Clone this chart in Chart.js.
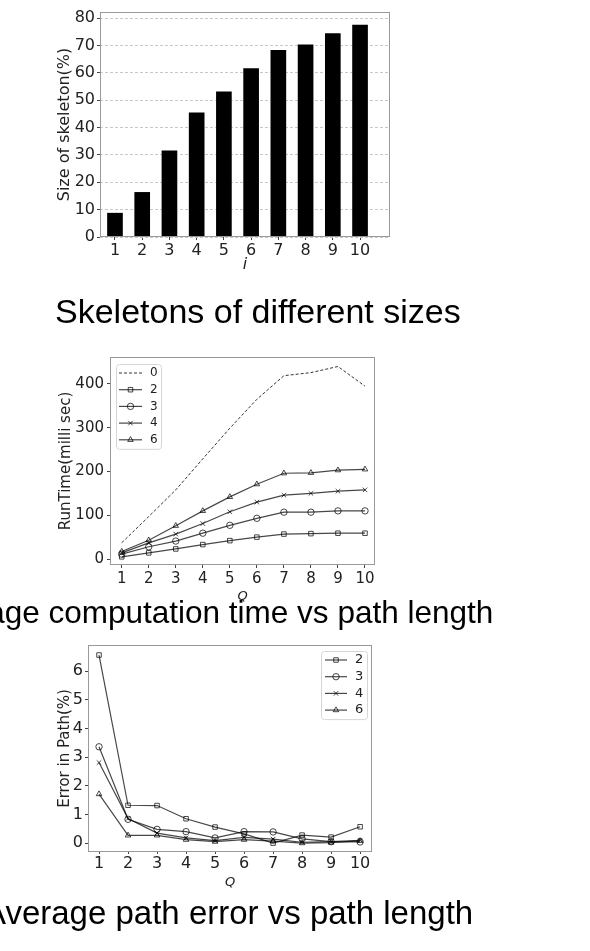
<!DOCTYPE html>
<html>
<head>
<meta charset="utf-8">
<script src="https://cdn.jsdelivr.net/npm/chart.js@4.4.1/dist/chart.umd.min.js"></script>
<style>
    html, body { margin: 0; padding: 0; background: #fff; }
    body { width: 590px; height: 951px; position: relative; overflow: hidden; }
    .chart-box { position: absolute; left: 0; }
    .caption {
        position: absolute;
        white-space: nowrap;
        font-family: "Liberation Sans", Arial, sans-serif;
        font-size: 33px;
        line-height: 33px;
        color: #000;
    }
</style>
</head>
<body>
<canvas id="chart-skeleton" class="chart-box" width="590" height="280" style="top:0"></canvas>
<canvas id="chart-runtime" class="chart-box" width="590" height="310" style="top:300px"></canvas>
<canvas id="chart-error" class="chart-box" width="590" height="290" style="top:610px"></canvas>
<div class="caption" style="left:55px;top:294px;font-size:34px;line-height:34px">Skeletons of different sizes</div>
<div class="caption" style="left:-77px;top:597px;font-size:31.5px;line-height:31.5px">Average computation time vs path length</div>
<div class="caption" style="left:-16px;top:896px">Average path error vs path length</div>
<script>
// top chart: skeleton size per i
const skeletonIndex = [1, 2, 3, 4, 5, 6, 7, 8, 9, 10];
const skeletonSizes = [8.7, 16.3, 31.5, 45.4, 53.0, 61.5, 68.2, 70.2, 74.3, 77.4];
const skeletonTicks = [0, 10, 20, 30, 40, 50, 60, 70, 80];

// shared x values for the two line charts
const pathLengths = [1, 2, 3, 4, 5, 6, 7, 8, 9, 10];

// run time (milli sec) per skeleton
const runTime0 = [37, 97, 158, 229, 299, 365, 419, 426, 440, 395];
const runTime2 = [5, 14, 23, 33, 42, 50, 57, 58, 59, 59];
const runTime3 = [11, 28, 41, 59, 77, 93, 107, 107, 110, 110];
const runTime4 = [14, 37, 57, 81, 108, 130, 146, 150, 155, 158];
const runTime6 = [17, 43, 76, 110, 142, 171, 196, 197, 203, 205];
const runTimeTicks = [0, 100, 200, 300, 400];

// error in path (%) per skeleton
const error2 = [6.56, 1.32, 1.31, 0.85, 0.56, 0.32, 0.0, 0.28, 0.21, 0.57];
const error3 = [3.36, 0.83, 0.48, 0.40, 0.18, 0.40, 0.39, 0.15, 0.05, 0.04];
const error4 = [2.81, 0.86, 0.35, 0.18, 0.09, 0.20, 0.14, 0.03, 0.05, 0.10];
const error6 = [1.71, 0.27, 0.27, 0.12, 0.05, 0.12, 0.07, 0.00, 0.02, 0.08];
const errorTicks = [0, 1, 2, 3, 4, 5, 6];

Chart.defaults.font.family = '"DejaVu Sans", sans-serif';
Chart.defaults.color = '#222';
Chart.defaults.animation = false;

const LINE_COLOR = 'rgba(0,0,0,0.72)';
const FRAME_COLOR = '#999';

function toPoints(xs, ys) {
    return xs.map((x, i) => ({ x: x, y: ys[i] }));
}

// matplotlib style box round the plot area
const framePlugin = {
    id: 'frame',
    afterDatasetsDraw(chart) {
        const { ctx, chartArea } = chart;
        ctx.save();
        ctx.strokeStyle = FRAME_COLOR;
        ctx.lineWidth = 1;
        ctx.strokeRect(chartArea.left + 0.5, chartArea.top + 0.5,
            chartArea.right - chartArea.left - 1, chartArea.bottom - chartArea.top - 1);
        ctx.restore();
    }
};

// legend drawn inside the plot area
const insideLegendPlugin = {
    id: 'insideLegend',
    afterDraw(chart, args, opts) {
        if (!opts || !opts.display) return;
        const { ctx, chartArea } = chart;
        const sets = chart.data.datasets;
        const w = opts.boxWidth;
        const h = opts.padTop * 2 + opts.rowHeight * (sets.length - 1);
        const left = opts.anchor === 'right' ? chartArea.right - opts.offsetX - w : chartArea.left + opts.offsetX;
        const top = chartArea.top + opts.offsetY;

        ctx.save();
        ctx.fillStyle = 'rgba(255,255,255,0.8)';
        ctx.strokeStyle = '#d6d6d6';
        ctx.lineWidth = 1;
        ctx.beginPath();
        ctx.roundRect(left + 0.5, top + 0.5, w, h, 3);
        ctx.fill();
        ctx.stroke();

        ctx.font = `${opts.fontSize}px "DejaVu Sans"`;
        ctx.textBaseline = 'middle';
        ctx.textAlign = 'left';
        sets.forEach((ds, i) => {
            const y = top + opts.padTop + i * opts.rowHeight;
            const x0 = left + opts.lineStart;
            const x1 = left + opts.lineEnd;
            ctx.strokeStyle = ds.borderColor;
            ctx.lineWidth = ds.borderWidth;
            ctx.setLineDash(ds.borderDash || []);
            ctx.beginPath();
            ctx.moveTo(x0, y);
            ctx.lineTo(x1, y);
            ctx.stroke();
            ctx.setLineDash([]);
            if (ds.pointRadius > 0 && Chart.helpers && Chart.helpers.drawPoint) {
                ctx.strokeStyle = ds.pointBorderColor;
                ctx.fillStyle = 'rgba(255,255,255,0)';
                ctx.lineWidth = ds.pointBorderWidth;
                Chart.helpers.drawPoint(ctx, {
                    pointStyle: ds.pointStyle,
                    radius: ds.pointRadius,
                    rotation: 0,
                    borderWidth: ds.pointBorderWidth
                }, (x0 + x1) / 2, y);
            }
            ctx.fillStyle = '#222';
            ctx.fillText(ds.label, left + opts.textX, y);
        });
        ctx.restore();
    }
};

function lineSet(label, values, style) {
    return {
        label: label,
        data: toPoints(pathLengths, values),
        borderColor: LINE_COLOR,
        borderWidth: 1.2,
        pointStyle: style,
        pointRadius: 3.2,
        pointBorderColor: LINE_COLOR,
        pointBorderWidth: 1,
        pointBackgroundColor: 'rgba(255,255,255,0)',
        fill: false,
        tension: 0
    };
}

function fixedTicks(values) {
    return (scale) => {
        scale.ticks = values.map(v => ({ value: v }));
    };
}

function createSkeletonChart() {
    const ctx = document.getElementById('chart-skeleton').getContext('2d');
    return new Chart(ctx, {
        type: 'bar',
        data: {
            datasets: [{
                label: 'Size of skeleton',
                data: toPoints(skeletonIndex, skeletonSizes),
                backgroundColor: '#000',
                borderColor: '#000',
                borderWidth: 0,
                barThickness: 15
            }]
        },
        options: {
            responsive: false,
            layout: { padding: { left: 0, right: 200, top: 12, bottom: 0 } },
            plugins: { legend: { display: false }, tooltip: { enabled: false } },
            scales: {
                x: {
                    type: 'linear',
                    offset: false,
                    min: 0.45,
                    max: 11.1,
                    afterBuildTicks: fixedTicks(skeletonIndex),
                    afterFit: (scale) => { scale.height = 43; },
                    grid: { offset: false, drawOnChartArea: false, drawTicks: true, tickLength: 3, tickColor: '#444' },
                    border: { display: false },
                    ticks: { font: { size: 16 }, padding: 1, color: '#222', maxRotation: 0 },
                    title: {
                        display: true,
                        text: 'i',
                        font: { size: 16, style: 'italic' },
                        padding: { top: 0, bottom: 6 }
                    }
                },
                y: {
                    min: 0,
                    max: 82.2,
                    afterBuildTicks: fixedTicks(skeletonTicks),
                    afterFit: (scale) => { scale.width = 100; },
                    grid: {
                        color: '#c8c8c8',
                        borderDash: [3, 2],
                        lineWidth: 1,
                        drawTicks: true,
                        tickLength: 3,
                        tickColor: '#444',
                        tickBorderDash: []
                    },
                    border: { display: false, dash: [3, 2] },
                    ticks: { font: { size: 16 }, padding: 2, color: '#222' },
                    title: {
                        display: true,
                        text: 'Size of skeleton(%)',
                        font: { size: 16 },
                        padding: { top: 55, bottom: 0 }
                    }
                }
            }
        },
        plugins: [framePlugin]
    });
}

function createRunTimeChart() {
    const ctx = document.getElementById('chart-runtime').getContext('2d');
    const base = {
        label: '0',
        data: toPoints(pathLengths, runTime0),
        borderColor: 'rgba(0,0,0,0.8)',
        borderWidth: 1,
        borderDash: [3, 2],
        pointRadius: 0,
        fill: false,
        tension: 0
    };
    return new Chart(ctx, {
        type: 'line',
        data: {
            datasets: [
                base,
                lineSet('2', runTime2, 'rect'),
                lineSet('3', runTime3, 'circle'),
                lineSet('4', runTime4, 'crossRot'),
                lineSet('6', runTime6, 'triangle')
            ]
        },
        options: {
            responsive: false,
            layout: { padding: { left: 0, right: 215, top: 57, bottom: 0 } },
            plugins: {
                legend: { display: false },
                tooltip: { enabled: false },
                insideLegend: {
                    display: true, anchor: 'left', offsetX: 6, offsetY: 7,
                    boxWidth: 45, padTop: 9, rowHeight: 16.7,
                    lineStart: 3, lineEnd: 26, textX: 34, fontSize: 12
                }
            },
            scales: {
                x: {
                    type: 'linear',
                    min: 0.567,
                    max: 10.37,
                    afterBuildTicks: fixedTicks(pathLengths),
                    afterFit: (scale) => { scale.height = 45; },
                    grid: { drawOnChartArea: false, drawTicks: true, tickLength: 3, tickColor: '#444' },
                    border: { display: false },
                    ticks: { font: { size: 15 }, padding: 2, color: '#222', maxRotation: 0 },
                    title: {
                        display: true,
                        text: 'Q',
                        font: { size: 13, style: 'italic' },
                        padding: { top: 0, bottom: 6 }
                    }
                },
                y: {
                    min: -13.7,
                    max: 461.7,
                    afterBuildTicks: fixedTicks(runTimeTicks),
                    afterFit: (scale) => { scale.width = 110; },
                    grid: { drawOnChartArea: false, drawTicks: true, tickLength: 3, tickColor: '#444' },
                    border: { display: false },
                    ticks: { font: { size: 15 }, padding: 3, color: '#222' },
                    title: {
                        display: true,
                        text: 'RunTime(milli sec)',
                        font: { size: 15 },
                        padding: { top: 57, bottom: 0 }
                    }
                }
            }
        },
        plugins: [framePlugin, insideLegendPlugin]
    });
}

function createErrorChart() {
    const ctx = document.getElementById('chart-error').getContext('2d');
    return new Chart(ctx, {
        type: 'line',
        data: {
            datasets: [
                lineSet('2', error2, 'rect'),
                lineSet('3', error3, 'circle'),
                lineSet('4', error4, 'crossRot'),
                lineSet('6', error6, 'triangle')
            ]
        },
        options: {
            responsive: false,
            layout: { padding: { left: 0, right: 218, top: 35, bottom: 0 } },
            plugins: {
                legend: { display: false },
                tooltip: { enabled: false },
                insideLegend: {
                    display: true, anchor: 'right', offsetX: 5, offsetY: 6,
                    boxWidth: 46, padTop: 9, rowHeight: 16.7,
                    lineStart: 4, lineEnd: 26, textX: 34, fontSize: 13
                }
            },
            scales: {
                x: {
                    type: 'linear',
                    min: 0.62,
                    max: 10.41,
                    afterBuildTicks: fixedTicks(pathLengths),
                    afterFit: (scale) => { scale.height = 48; },
                    grid: { drawOnChartArea: false, drawTicks: true, tickLength: 2, tickColor: '#444' },
                    border: { display: false },
                    ticks: { font: { size: 16 }, padding: 0, color: '#222', maxRotation: 0 },
                    title: {
                        display: true,
                        text: 'Q',
                        font: { size: 13, style: 'italic' },
                        padding: { top: 0, bottom: 10 }
                    }
                },
                y: {
                    min: -0.31,
                    max: 6.91,
                    afterBuildTicks: fixedTicks(errorTicks),
                    afterFit: (scale) => { scale.width = 88; },
                    grid: { drawOnChartArea: false, drawTicks: true, tickLength: 3, tickColor: '#444' },
                    border: { display: false },
                    ticks: { font: { size: 16 }, padding: 2, color: '#222' },
                    title: {
                        display: true,
                        text: 'Error in Path(%)',
                        font: { size: 15 },
                        padding: { top: 56, bottom: 0 }
                    }
                }
            }
        },
        plugins: [framePlugin, insideLegendPlugin]
    });
}

createSkeletonChart();
createRunTimeChart();
createErrorChart();
</script>
</body>
</html>
